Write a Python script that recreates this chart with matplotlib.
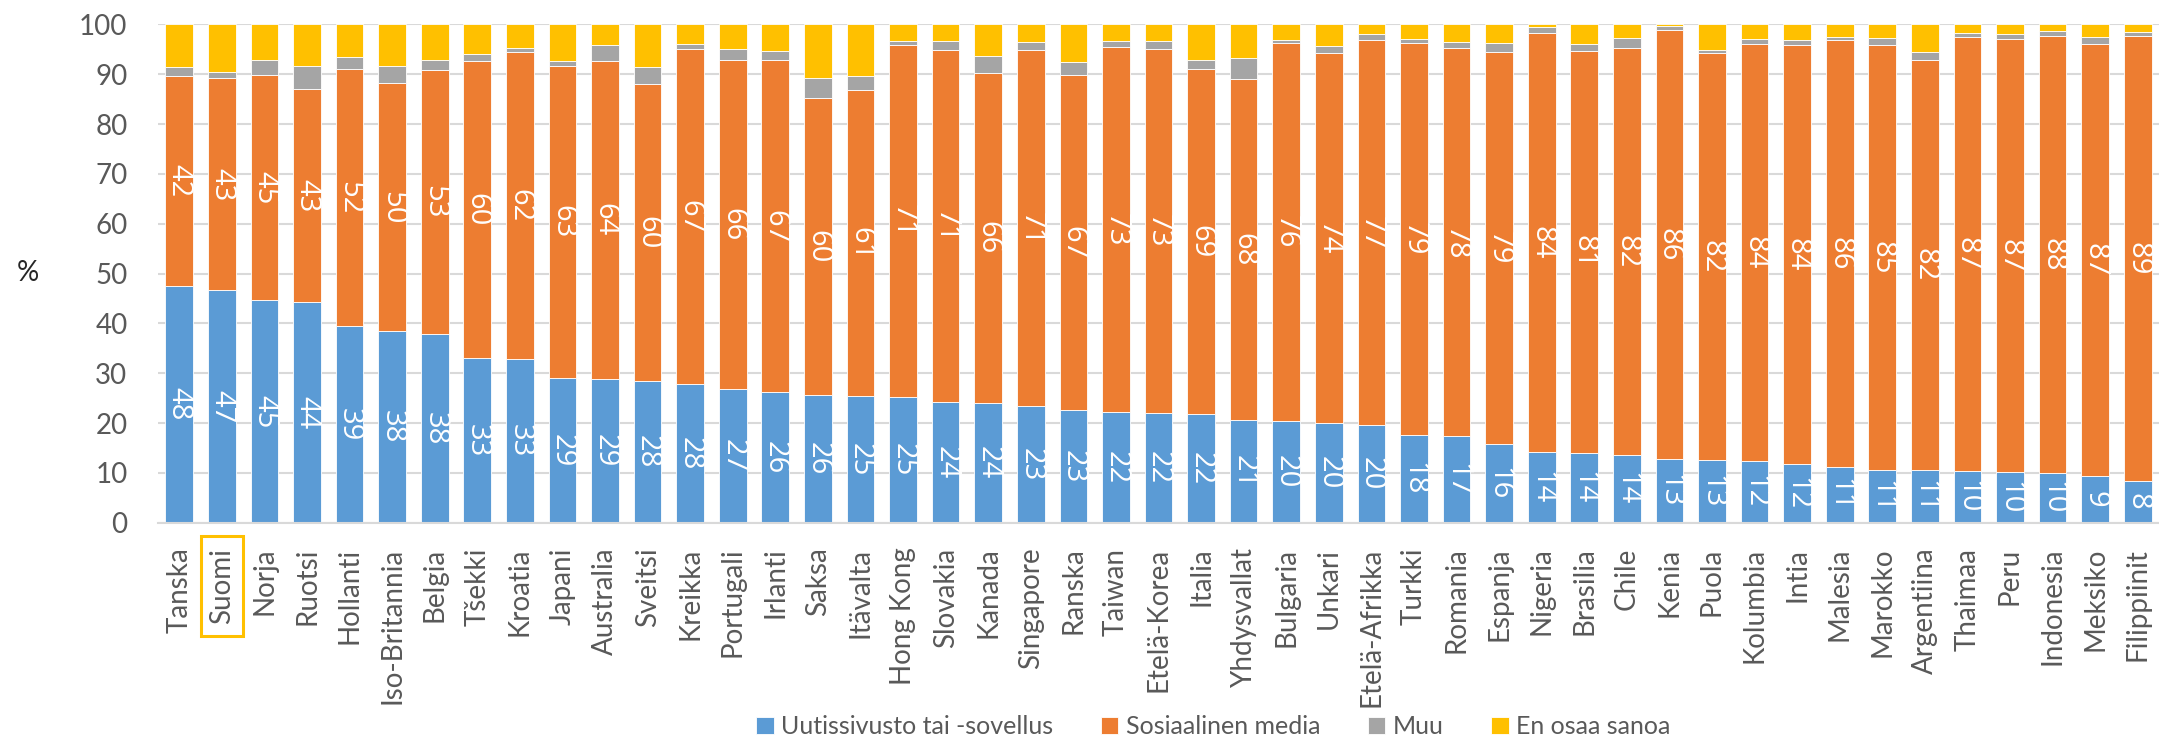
import matplotlib
matplotlib.use("Agg")
import matplotlib.pyplot as plt
from matplotlib.patches import Rectangle
import numpy as np

# maat ja osuudet (%), luettu kuvasta
maat = ["Tanska", "Suomi", "Norja", "Ruotsi", "Hollanti", "Iso-Britannia", "Belgia",
        "Tšekki", "Kroatia", "Japani", "Australia", "Sveitsi", "Kreikka", "Portugali",
        "Irlanti", "Saksa", "Itävalta", "Hong Kong", "Slovakia", "Kanada", "Singapore",
        "Ranska", "Taiwan", "Etelä-Korea", "Italia", "Yhdysvallat", "Bulgaria", "Unkari",
        "Etelä-Afrikka", "Turkki", "Romania", "Espanja", "Nigeria", "Brasilia", "Chile",
        "Kenia", "Puola", "Kolumbia", "Intia", "Malesia", "Marokko", "Argentiina",
        "Thaimaa", "Peru", "Indonesia", "Meksiko", "Filippiinit"]

uutis = [47.6, 46.6, 44.7, 44.3, 39.4, 38.4, 37.8, 33.0, 32.8, 29.0, 28.9, 28.4, 27.8,
         26.8, 26.2, 25.6, 25.4, 25.3, 24.3, 24.1, 23.4, 22.6, 22.2, 22.1, 21.8, 20.6,
         20.4, 20.1, 19.6, 17.6, 17.3, 15.7, 14.2, 14.0, 13.6, 12.8, 12.6, 12.3, 11.8,
         11.1, 10.6, 10.6, 10.4, 10.2, 10.0, 9.3, 8.4]

some = [42.0, 42.6, 45.1, 42.8, 51.6, 49.8, 53.1, 59.7, 61.7, 62.7, 63.7, 59.6, 67.2,
        66.1, 66.6, 59.7, 61.4, 70.6, 70.6, 66.1, 71.4, 67.3, 73.3, 73.0, 69.3, 68.4,
        75.9, 74.2, 77.2, 78.7, 77.9, 78.8, 84.1, 80.6, 81.7, 86.1, 81.7, 83.8, 84.1,
        85.8, 85.3, 82.3, 87.1, 86.8, 87.6, 86.8, 89.3]

muu = [1.9, 1.2, 3.0, 4.6, 2.4, 3.5, 2.0, 1.4, 0.8, 0.9, 3.3, 3.5, 1.1,
       2.2, 1.9, 4.0, 2.8, 0.8, 1.8, 3.5, 1.7, 2.5, 1.2, 1.6, 1.7, 4.3,
       0.6, 1.3, 1.2, 0.7, 1.3, 1.8, 1.2, 1.5, 2.0, 0.8, 0.6, 0.9, 1.0,
       0.6, 1.4, 1.5, 0.8, 1.1, 1.0, 1.4, 0.7]

eos = [8.5, 9.6, 7.2, 8.3, 6.6, 8.3, 7.1, 5.9, 4.7, 7.4, 4.1, 8.5, 3.9,
       4.9, 5.3, 10.7, 10.4, 3.3, 3.3, 6.3, 3.5, 7.6, 3.3, 3.3, 7.2, 6.7,
       3.1, 4.4, 2.0, 3.0, 3.5, 3.7, 0.5, 3.9, 2.7, 0.3, 5.1, 3.0, 3.1,
       2.5, 2.7, 5.6, 1.7, 1.9, 1.4, 2.5, 1.6]

sarjat = ["Uutissivusto tai -sovellus", "Sosiaalinen media", "Muu", "En osaa sanoa"]
varit = ["#5B9BD5", "#ED7D31", "#A5A5A5", "#FFC000"]

plt.rcParams['font.family'] = ['Lato', 'DejaVu Sans']
harmaa = "#595959"

W, H = 2159, 750
fig = plt.figure(figsize=(W / 100, H / 100), dpi=100)
ax = fig.add_axes([158 / W, 1 - 522.7 / H, (W - 158) / W, (522.7 - 24.4) / H])

x = np.arange(len(maat))
leveys = 0.65
pohja = np.zeros(len(maat))
palkit = []
for arvot, nimi, vari in zip([uutis, some, muu, eos], sarjat, varit):
    b = ax.bar(x, arvot, leveys, bottom=pohja, color=vari, edgecolor="white",
               linewidth=0.6, label=nimi, zorder=2)
    palkit.append(b)
    pohja = pohja + np.array(arvot)

# arvot palkkien sisään
ax.bar_label(palkit[0], labels=[f"{v:.0f}" for v in uutis], label_type="center",
             rotation=270, color="white", fontsize=21, family=["Open Sans", "DejaVu Sans"])
ax.bar_label(palkit[1], labels=[f"{v:.0f}" for v in some], label_type="center",
             rotation=270, color="white", fontsize=21, family=["Open Sans", "DejaVu Sans"])

ax.set_xlim(-0.5, len(maat) - 0.5)
ax.set_ylim(0, 100)
ax.set_yticks(range(0, 101, 10))
ax.yaxis.grid(True, color="#D9D9D9", linewidth=1.5, zorder=0)
ax.set_axisbelow(True)
for s in ["top", "right", "left"]:
    ax.spines[s].set_visible(False)
ax.spines["bottom"].set_color("#D9D9D9")
ax.spines["bottom"].set_linewidth(1.5)

ax.set_xticks(x)
ax.set_xticklabels(maat, rotation=90, fontsize=20, color=harmaa)
ax.tick_params(axis="x", length=0, pad=18)
ax.tick_params(axis="y", length=0, pad=22, labelsize=20, labelcolor=harmaa)

fig.text(28 / W, 1 - 273 / H, "%", ha="center", va="center", fontsize=20, color="#262626")

leg = fig.legend(loc="center", bbox_to_anchor=(0.562, 0.031), ncol=4, frameon=False,
                 fontsize=18, handlelength=0.7, handleheight=0.7, handletextpad=0.3,
                 columnspacing=1.9)
for t in leg.get_texts():
    t.set_color(harmaa)

# Suomi korostettuna kehyksellä
fig.canvas.draw()
bb = ax.get_xticklabels()[1].get_window_extent()
cx = (bb.x0 + bb.x1) / 2
kehys = Rectangle(((cx - 21) / W, (bb.y0 - 12) / H), 42 / W, (bb.height + 24) / H,
                  transform=fig.transFigure, fill=False, edgecolor="#FFC000",
                  linewidth=2.2)
fig.patches.append(kehys)

fig.savefig("out.png", dpi=100)
